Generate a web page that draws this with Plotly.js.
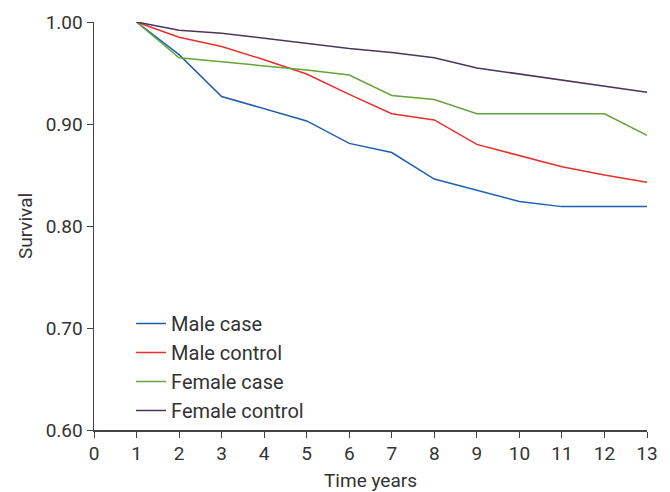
<!DOCTYPE html>
<html>
<head>
<meta charset="utf-8">
<script src="https://cdn.plot.ly/plotly-3.0.1.min.js"></script>
<style>html,body{margin:0;padding:0;background:#fff;}#chart{width:670px;height:492px;}</style>
</head>
<body>
<div id="chart"></div>
<script>
const years = [1,2,3,4,5,6,7,8,9,10,11,12,13];
const maleCase = [1.0,0.968,0.927,0.915,0.903,0.881,0.872,0.846,0.835,0.824,0.819,0.819,0.819];
const maleControl = [1.0,0.985,0.976,0.963,0.949,0.929,0.910,0.904,0.880,0.869,0.858,0.850,0.843];
const femaleCase = [1.0,0.965,0.961,0.957,0.953,0.948,0.928,0.924,0.910,0.910,0.910,0.910,0.889];
const femaleControl = [1.0,0.992,0.989,0.984,0.979,0.974,0.970,0.965,0.955,0.949,0.943,0.937,0.931];
const seriesNames = ["Male case","Male control","Female case","Female control"];
const seriesColors = ["#1f5eae","#e6302b","#68a23a","#4a3657"];
const xTicks = [0,1,2,3,4,5,6,7,8,9,10,11,12,13];
const yTicks = [0.60,0.70,0.80,0.90,1.00];
const yTickText = ["0.60","0.70","0.80","0.90","1.00"];

const allSeries = [maleCase, maleControl, femaleCase, femaleControl];
const traces = allSeries.map((s,i)=>({
  x: years, y: s, type:'scatter', mode:'lines', name: seriesNames[i],
  line:{color: seriesColors[i], width:1.5}
}));

const fontFam = "Roboto, 'DejaVu Sans', sans-serif";
const layout = {
  width:670, height:492,
  margin:{l:94, r:23, t:22, b:62},
  paper_bgcolor:'#fff', plot_bgcolor:'#fff',
  font:{family:fontFam, size:19, color:'#333'},
  showlegend:true,
  legend:{x:0.067, y:0.0, xanchor:'left', yanchor:'bottom', bgcolor:'rgba(0,0,0,0)', font:{size:20, color:'#333'}, tracegroupgap:0},
  xaxis:{range:[0,13], tickvals:xTicks, ticks:'outside', ticklen:6, tickcolor:'#444', showline:true, linecolor:'#444', linewidth:1.5, showgrid:false, zeroline:false,
    title:{text:'Time years', standoff:10, font:{size:19}}},
  yaxis:{range:[0.6,1.0], tickvals:yTicks, ticktext:yTickText, ticks:'outside', ticklen:6, tickcolor:'#444', showline:true, linecolor:'#444', linewidth:1.5, showgrid:false, zeroline:false,
    title:{text:'Survival', standoff:8, font:{size:19}}}
};
Plotly.newPlot('chart', traces, layout, {displayModeBar:false, staticPlot:true});
</script>
</body>
</html>
